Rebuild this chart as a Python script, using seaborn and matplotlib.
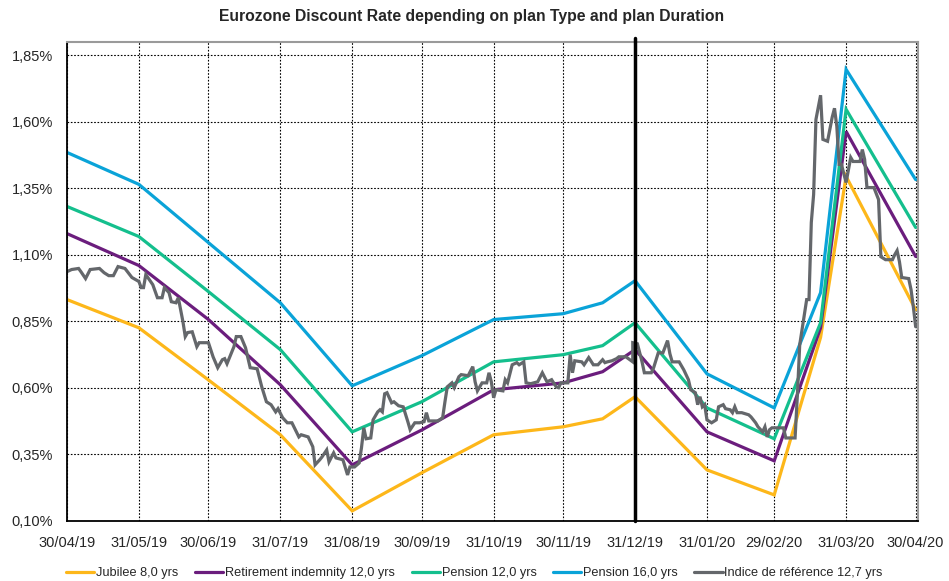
import pandas as pd
import matplotlib
matplotlib.use("Agg")
import matplotlib.pyplot as plt
import matplotlib.dates as mdates
from matplotlib.ticker import FuncFormatter
import seaborn as sns

# === Data (rates in %) ===
model_dates = ['2019-04-30', '2019-05-31', '2019-06-30', '2019-07-31', '2019-08-31',
               '2019-09-30', '2019-10-31', '2019-11-30', '2019-12-17', '2019-12-31',
               '2020-01-31', '2020-02-29', '2020-03-20', '2020-03-31', '2020-04-30']
jubilee_8 = [0.932, 0.826, 0.630, 0.424, 0.138, 0.281, 0.424, 0.454, 0.484, 0.567,
             0.292, 0.198, 0.790, 1.395, 0.894]
retirement_12 = [1.180, 1.060, 0.857, 0.612, 0.311, 0.442, 0.593, 0.619, 0.661, 0.744,
                 0.435, 0.326, 0.826, 1.564, 1.094]
pension_12 = [1.282, 1.169, 0.962, 0.744, 0.435, 0.548, 0.698, 0.725, 0.759, 0.845,
              0.525, 0.409, 0.845, 1.647, 1.203]
pension_16 = [1.485, 1.365, 1.146, 0.920, 0.608, 0.721, 0.857, 0.879, 0.920, 1.003,
              0.653, 0.525, 0.958, 1.797, 1.383]

# reference index: days after 30/04/19 and value
ref_days = [0, 2, 5, 6, 8, 10, 14, 16, 18, 20, 22, 25, 28, 31, 32, 33, 34, 37, 39, 41,
            42, 44, 45, 47, 48, 50, 51, 52, 54, 56, 57, 61,
            63, 65, 67, 68, 69, 72, 73, 75, 77, 79, 82, 84, 86, 88, 90, 91, 93, 95, 97,
            100, 101, 104, 106, 107, 109, 110, 112, 113, 115, 116, 119, 121, 122, 124, 126,
            127, 128, 129, 131, 132, 134, 135, 136, 137, 138, 140, 141, 143, 145, 147, 148,
            150, 152, 154, 155, 156, 160, 162, 163, 164, 166, 167, 169, 170, 173, 175, 176,
            177, 179, 181, 182, 183,
            184, 185, 188, 189, 190, 192, 194, 195, 197, 198, 200, 203, 205, 207, 209, 211,
            212, 213, 216, 217, 218, 219, 222, 223, 225, 227, 229, 231, 232, 233, 235, 237,
            238, 241, 244, 244, 246, 248, 249, 252, 253, 255, 257, 259, 260, 261, 264, 266,
            268, 269, 271, 272, 273, 274, 275, 276, 278, 280, 281, 283, 284, 286, 287, 288,
            289, 291, 294, 295, 297, 298, 300, 301, 302, 303, 304, 309, 310, 314,
            315, 316, 319, 320, 321, 322, 323, 325, 326, 328, 330, 331, 332, 333, 334, 336,
            338, 339, 342, 343, 344, 345, 348, 350, 351, 353, 356, 357, 358, 359, 360, 363,
            364, 365, 366]
ref_vals = [1.037, 1.045, 1.049, 1.037, 1.011, 1.045, 1.049, 1.033, 1.022, 1.022, 1.056,
            1.049, 1.015, 1.000, 0.977, 0.977, 1.026, 0.988, 0.939, 0.939, 0.977, 0.958,
            0.924, 0.920, 0.939, 0.849, 0.793, 0.808, 0.811, 0.755, 0.770, 0.770,
            0.717, 0.676, 0.706, 0.710, 0.691, 0.755, 0.793, 0.793, 0.751, 0.676, 0.672,
            0.604, 0.548, 0.537, 0.510, 0.522, 0.488, 0.469, 0.469,
            0.416, 0.424, 0.416, 0.379, 0.311, 0.330, 0.341, 0.367, 0.322, 0.356, 0.337,
            0.330, 0.273, 0.303, 0.303, 0.318,
            0.375, 0.450, 0.409, 0.412, 0.480, 0.510, 0.518, 0.510, 0.578, 0.582, 0.544,
            0.548, 0.533, 0.529, 0.473, 0.443, 0.469, 0.469, 0.473, 0.507, 0.476, 0.476,
            0.488, 0.548, 0.604, 0.619, 0.601, 0.642, 0.650, 0.646, 0.680, 0.623, 0.589,
            0.619, 0.619, 0.657, 0.623,
            0.563, 0.593, 0.589, 0.631, 0.619, 0.687, 0.695, 0.687, 0.698, 0.619, 0.616,
            0.623, 0.657, 0.623, 0.631, 0.604, 0.601, 0.619, 0.619, 0.725, 0.657, 0.702,
            0.698, 0.687, 0.714, 0.687, 0.687, 0.706, 0.695, 0.698, 0.702, 0.710, 0.717,
            0.717, 0.698, 0.770, 0.766, 0.698, 0.657, 0.657, 0.676, 0.732, 0.732, 0.778,
            0.729, 0.698, 0.698, 0.668, 0.631, 0.593, 0.582, 0.537, 0.567, 0.529, 0.537,
            0.480, 0.469, 0.480, 0.529, 0.537, 0.522, 0.518, 0.507, 0.529, 0.507, 0.507,
            0.499, 0.491, 0.469, 0.454, 0.435, 0.454, 0.416, 0.443, 0.450, 0.450, 0.412,
            0.412,
            0.574, 0.762, 0.932, 0.932, 1.222, 1.327, 1.609, 1.700, 1.534, 1.527, 1.617,
            1.651, 1.583, 1.440, 1.440, 1.372, 1.466, 1.451, 1.451, 1.496, 1.459, 1.353,
            1.353, 1.308, 1.093, 1.082, 1.082, 1.101, 1.116, 1.075, 1.015, 1.011, 0.970,
            0.905, 0.830]

series_names = ['Jubilee 8,0 yrs', 'Retirement indemnity 12,0 yrs', 'Pension 12,0 yrs',
                'Pension 16,0 yrs', 'Indice de référence 12,7 yrs']
series_colors = ['#FDB71A', '#6B1D7D', '#14BF8D', '#0AA3D8', '#64676B']

tick_dates = ['2019-04-30', '2019-05-31', '2019-06-30', '2019-07-31', '2019-08-31',
              '2019-09-30', '2019-10-31', '2019-11-30', '2019-12-31', '2020-01-31',
              '2020-02-29', '2020-03-31', '2020-04-30']
y_ticks = [0.10, 0.35, 0.60, 0.85, 1.10, 1.35, 1.60, 1.85]

# === Build long table ===
frames = []
for name, vals in zip(series_names[:4], [jubilee_8, retirement_12, pension_12, pension_16]):
    frames.append(pd.DataFrame({'date': pd.to_datetime(model_dates), 'rate': vals, 'series': name}))
start = pd.Timestamp('2019-04-30')
frames.append(pd.DataFrame({'date': start + pd.to_timedelta(ref_days, unit='D'),
                            'rate': ref_vals, 'series': series_names[4]}))
df = pd.concat(frames, ignore_index=True)

# === Plot ===
sns.set_style('white')
plt.rcParams['font.family'] = ['Liberation Sans', 'DejaVu Sans']

fig = plt.figure(figsize=(9.49, 5.81), dpi=100)
ax = fig.add_axes([0.0706, 0.1033, 0.8967, 0.8244])

sns.lineplot(data=df, x='date', y='rate', hue='series', hue_order=series_names,
             palette=dict(zip(series_names, series_colors)), estimator=None, sort=False,
             linewidth=2.3, ax=ax)
for ln in ax.lines:
    ln.set_solid_joinstyle('miter')

ax.set_xlim(pd.Timestamp('2019-04-30'), pd.Timestamp('2020-05-01'))
ax.set_ylim(0.10, 1.90)
ax.set_xticks(pd.to_datetime(tick_dates))
ax.xaxis.set_major_formatter(mdates.DateFormatter('%d/%m/%y'))
ax.set_yticks(y_ticks)
ax.yaxis.set_major_formatter(FuncFormatter(lambda v, p: f"{v:.2f}%".replace('.', ',')))
ax.tick_params(axis='both', labelsize=10.5, length=4, width=1, color='black', direction='out')
ax.tick_params(axis='x', pad=7)
ax.tick_params(axis='y', pad=6)
ax.set_xlabel('')
ax.set_ylabel('')
ax.grid(True, color='black', linestyle=(0, (1.5, 1.5)), linewidth=0.8)

for side in ['left', 'bottom']:
    ax.spines[side].set_color('black')
    ax.spines[side].set_linewidth(1.3)
for side in ['top', 'right']:
    ax.spines[side].set_color('#9A9A9A')
    ax.spines[side].set_linewidth(1.5)

# year-end marker
ax.axvline(pd.Timestamp('2019-12-31'), ymin=0, ymax=1.009, color='black', linewidth=2.5,
           clip_on=False, zorder=5)

fig.suptitle('Eurozone Discount Rate depending on plan Type and plan Duration',
             fontsize=11.3, fontweight='bold', x=0.497, y=0.985, va='top')

handles, labels = ax.get_legend_handles_labels()
ax.get_legend().remove()
fig.legend(handles, labels, loc='center', bbox_to_anchor=(0.5, 0.013), ncol=5,
           frameon=False, fontsize=9.2, handlelength=2.2, handletextpad=0.15,
           columnspacing=1.3, borderaxespad=0, borderpad=0)

plt.savefig('out.png', dpi=100)
plt.close()
